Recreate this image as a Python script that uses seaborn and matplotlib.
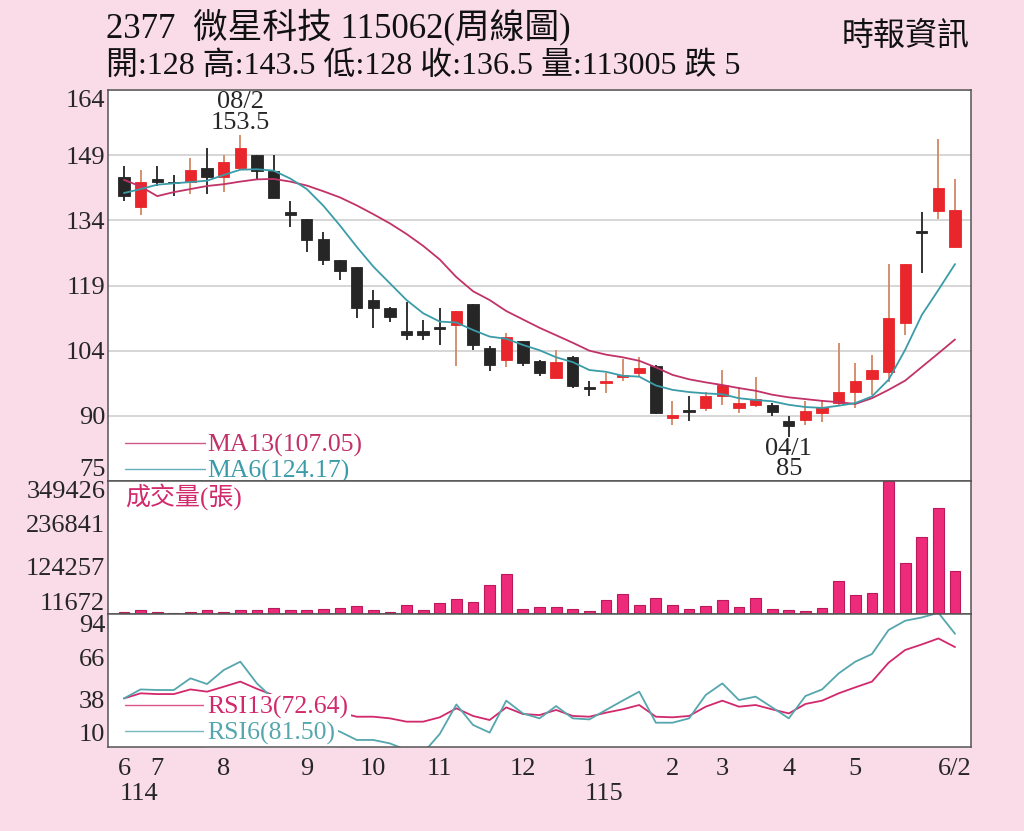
import matplotlib
matplotlib.use("Agg")
import matplotlib.pyplot as plt
import seaborn as sns

# weekly candles (114/6 .. 115/6/2)
opens = [144.0, 137.2, 143.5, 142.9, 142.8, 145.9, 144.0, 145.9, 148.9, 145.4,
         136.1, 134.3, 129.9, 125.0, 123.6, 116.0, 114.1, 109.0, 109.0, 109.6,
         110.4, 115.0, 105.1, 102.3, 106.6, 102.2, 98.3, 103.0, 96.1, 97.1,
         98.5, 99.4, 101.1, 89.2, 90.8, 91.4, 94.2, 91.4, 92.2, 92.2,
         88.6, 88.8, 90.3, 92.7, 95.2, 98.0, 99.6, 110.7, 131.4, 136.2, 128.0]
highs = [146.5, 145.5, 146.5, 144.4, 148.2, 150.5, 148.9, 153.5, 149.0, 148.9,
         138.4, 134.3, 131.5, 125.0, 123.6, 118.3, 114.5, 115.6, 111.5, 114.1,
         113.5, 115.0, 105.6, 108.6, 106.6, 102.4, 104.7, 103.3, 97.7, 99.4,
         102.6, 103.0, 101.3, 93.0, 94.2, 95.0, 100.0, 96.2, 98.6, 92.6,
         89.7, 93.0, 93.0, 106.2, 101.6, 103.5, 124.1, 124.1, 136.1, 152.5, 143.5]
lows = [138.5, 135.2, 142.0, 139.6, 140.0, 140.0, 140.6, 145.5, 143.5, 139.1,
        132.5, 127.0, 124.0, 120.6, 111.9, 109.6, 111.1, 107.0, 107.0, 105.8,
        101.1, 104.7, 99.9, 100.7, 101.1, 98.8, 98.3, 96.0, 94.3, 94.8,
        97.5, 98.6, 90.2, 87.7, 88.6, 90.7, 92.2, 90.3, 91.7, 89.7,
        85.0, 87.7, 88.4, 92.2, 91.4, 94.5, 97.3, 108.1, 122.1, 134.3, 128.0]
closes = [139.6, 142.9, 142.8, 142.5, 145.5, 144.0, 147.4, 150.5, 145.3, 139.1,
          135.3, 129.7, 125.1, 122.7, 114.1, 114.1, 112.1, 108.1, 108.1, 109.6,
          113.5, 105.7, 101.3, 107.5, 101.7, 99.5, 102.0, 96.4, 96.1, 97.5,
          99.0, 100.5, 90.3, 89.9, 90.8, 94.1, 96.7, 92.7, 93.6, 90.5,
          87.4, 90.8, 91.8, 95.1, 97.7, 100.0, 112.0, 124.1, 131.4, 141.5, 136.5]
volume = [4400, 9400, 4200, 1500, 6000, 11300, 5200, 11300, 11300, 14700,
          9400, 11300, 13100, 14700, 19900, 10300, 5200, 24400, 9400, 28800,
          39300, 31400, 75000, 104900, 13000, 18300, 18300, 13900, 6800, 35700,
          53300, 22700, 42000, 23600, 13900, 21800, 36700, 17500, 40900, 13900,
          9400, 8700, 15700, 85500, 50600, 54000, 349426, 133700, 203400, 279400, 113005]
ma13 = [143.3, 141.8, 139.6, 140.5, 141.2, 141.9, 142.3, 142.9, 143.4, 143.5,
        142.9, 142.0, 140.7, 139.3, 137.5, 135.5, 133.4, 131.0, 128.3, 125.2,
        121.2, 118.0, 116.0, 113.5, 111.6, 109.7, 108.0, 106.3, 104.5, 103.6,
        103.0, 102.2, 100.7, 99.0, 98.0, 97.3, 96.7, 96.0, 95.4, 94.5,
        93.9, 93.5, 93.1, 92.8, 92.4, 93.7, 95.6, 97.7, 100.8, 103.9, 107.05]
ma6 = [140.3, 141.2, 142.2, 142.5, 142.8, 143.1, 144.4, 145.6, 145.7, 145.4,
       143.6, 141.2, 137.4, 132.9, 128.1, 123.6, 119.8, 116.0, 113.0, 111.1,
       110.9, 109.2, 107.7, 107.2, 105.8, 104.6, 103.0, 101.9, 100.1, 99.7,
       98.8, 98.6, 96.6, 95.6, 95.1, 94.8, 94.6, 93.7, 93.3, 93.0,
       92.2, 91.7, 91.5, 92.0, 92.6, 94.1, 97.9, 104.7, 112.6, 118.3, 124.17]
rsi13 = [38.4, 41.8, 41.3, 41.3, 44.4, 42.9, 46.2, 49.6, 44.8, 40.5,
         36.5, 33.0, 30.5, 29.0, 26.2, 26.2, 25.1, 22.9, 22.9, 25.8,
         31.8, 26.7, 24.0, 32.4, 28.0, 27.3, 30.7, 26.7, 26.2, 28.9,
         31.1, 34.0, 26.2, 25.8, 26.7, 32.9, 36.9, 32.9, 34.0, 31.1,
         28.4, 34.7, 36.9, 41.8, 45.8, 49.6, 62.2, 70.7, 74.4, 78.4, 72.64]
rsi6 = [38.4, 44.4, 44.0, 44.0, 51.8, 48.0, 57.3, 62.9, 48.4, 38.0,
        30.0, 24.0, 20.0, 16.2, 10.7, 10.7, 8.4, 4.0, 2.0, 14.7,
        34.4, 20.7, 15.6, 36.9, 28.4, 25.1, 33.3, 25.1, 24.4, 30.7,
        36.9, 42.9, 22.2, 22.2, 25.1, 40.7, 48.4, 37.3, 39.6, 32.4,
        25.1, 40.0, 44.4, 55.1, 62.9, 68.0, 84.0, 90.2, 92.4, 95.5, 81.50]

weeks = list(range(len(closes)))
month_pos = [0, 2, 6, 11, 15, 19, 24, 28, 33, 36, 40, 44, 50]
month_labels = ["6", "7", "8", "9", "10", "11", "12", "1", "2", "3", "4", "5", "6/2"]
year_pos = [0, 28]
year_labels = ["114", "115"]
hi_date, lo_date = "08/2", "04/1"

price_ticks = [163.7, 148.9, 134.1, 119.3, 104.5, 89.7, 74.9]
price_labels = ["164", "149", "134", "119", "104", "90", "75"]
vol_ticks = [11672, 124257, 236841, 349426]
rsi_ticks = [94, 66, 38, 10]

BG = "#F9DCE7"
RED = "#E8262B"
BLK = "#262626"
MA13_C = "#C23268"
MA6_C = "#3A9CA8"
RSI13_C = "#D2286C"
RSI6_C = "#55A6AE"
VOL_C = "#EE2A7B"
FAM = ["Liberation Serif", "Noto Sans CJK TC"]

sns.set_style("white")
plt.rcParams["font.family"] = FAM

fig = plt.figure(figsize=(10.24, 8.31), dpi=100, facecolor=BG)
L, W = 108 / 1024, 863 / 1024
ax_p = fig.add_axes([L, 350 / 831, W, 391 / 831])
ax_v = fig.add_axes([L, 217 / 831, W, 133 / 831])
ax_r = fig.add_axes([L, 84 / 831, W, 133 / 831])


def text_legend(ax, colors, anchor, pad):
    leg = ax.legend(loc="lower left", bbox_to_anchor=anchor, frameon=False,
                    fontsize=18.5, handlelength=3.2, handletextpad=0.0,
                    labelspacing=0.1, borderpad=0, borderaxespad=0,
                    labelcolor=colors)
    for t in leg.get_texts():
        t.set_bbox(dict(facecolor="white", edgecolor="none", pad=pad))
    for h in leg.legend_handles:
        h.set_linewidth(1.0)
        h.set_alpha(0.8)
    leg.set_zorder(2.4)  # over the lines, under the spines
    return leg


# candles
up = [c > o for o, c in zip(opens, closes)]
body_col = [RED if u else BLK for u in up]
wick_col = ["#D49070" if u else "#333333" for u in up]
ax_p.vlines(weeks, lows, highs, colors=wick_col, linewidth=1.4, zorder=2)
bottoms = [min(o, c) if abs(c - o) > 0.35 else o - 0.2 for o, c in zip(opens, closes)]
heights = [max(abs(c - o), 0.4) for o, c in zip(opens, closes)]
ax_p.bar(weeks, heights, bottom=bottoms, width=0.68, color=body_col,
         edgecolor=body_col, linewidth=0.6, zorder=2.2)

sns.lineplot(x=weeks, y=ma13, color=MA13_C, linewidth=1.3, ax=ax_p, zorder=2.3,
             label=f"MA13({ma13[-1]:.2f})")
sns.lineplot(x=weeks, y=ma6, color=MA6_C, linewidth=1.3, ax=ax_p, zorder=2.3,
             label=f"MA6({ma6[-1]:.2f})")

ax_p.set_ylim(price_ticks[-1], price_ticks[0])
ax_p.set_yticks(price_ticks)
ax_p.set_yticklabels(price_labels)
ax_p.yaxis.grid(True, color="#CFCFCF", linewidth=1.2)
text_legend(ax_p, [MA13_C, MA6_C], (0.0197, -0.005), 0.5)

ih = highs.index(max(highs))
il = lows.index(min(lows))
ax_p.annotate(f"{hi_date}\n{highs[ih]:g}", xy=(ih, highs[ih]), xytext=(0, 1),
              textcoords="offset points", ha="center", va="bottom",
              fontsize=19, linespacing=0.9)
ax_p.annotate(f"{lo_date}\n{lows[il]:g}", xy=(il, lows[il]), xytext=(0, -1),
              textcoords="offset points", ha="center", va="top",
              fontsize=19, linespacing=0.9)

# volume
sns.barplot(x=weeks, y=volume, native_scale=True, orient="x", width=0.65,
            color=VOL_C, edgecolor="#B81A5A", linewidth=0.8, saturation=1,
            ax=ax_v)
ax_v.set_ylim(0, vol_ticks[-1])
ax_v.set_yticks(vol_ticks)
ax_v.set_yticklabels([str(v) for v in vol_ticks])
ax_v.text(0.02, 0.88, "成交量(張)", transform=ax_v.transAxes, fontsize=18,
          color=RSI13_C, va="center", ha="left")

# RSI
sns.lineplot(x=weeks, y=rsi13, color=RSI13_C, linewidth=1.3, ax=ax_r,
             label=f"RSI13({rsi13[-1]:.2f})")
sns.lineplot(x=weeks, y=rsi6, color=RSI6_C, linewidth=1.3, ax=ax_r,
             label=f"RSI6({rsi6[-1]:.2f})")
ax_r.set_ylim(6, 94.7)
ax_r.set_yticks(rsi_ticks)
ax_r.set_yticklabels([str(v) for v in rsi_ticks])
text_legend(ax_r, [RSI13_C, RSI6_C], (0.0197, 0.012), 2.0)

for ax in (ax_p, ax_v, ax_r):
    ax.set_facecolor("white")
    ax.set_xlim(-0.96, 50.96)
    ax.set_xlabel("")
    ax.set_ylabel("")
    ax.tick_params(axis="y", length=0, pad=2, labelsize=19)
    for s in ax.spines.values():
        s.set_color("#555555")
        s.set_linewidth(1.1)
        s.set_visible(True)
for ax in (ax_p, ax_v):
    ax.set_xticks([])

for ax, vas in ((ax_p, ["top"] + ["center_baseline"] * 5 + ["bottom"]),
                (ax_v, ["baseline", "center_baseline", "center_baseline", "top"]),
                (ax_r, ["top", "center_baseline", "center_baseline", "baseline"])):
    for lab, va in zip(ax.get_yticklabels(), vas):
        lab.set_va(va)

ax_r.set_xticks(month_pos)
ax_r.set_xticklabels(month_labels)
ax_r.set_xticks(weeks, minor=True)
ax_r.tick_params(axis="x", which="major", direction="out", length=6, width=1,
                 pad=2, labelsize=19, color="#333333")
ax_r.tick_params(axis="x", which="minor", direction="out", length=3, width=0.8,
                 color="#333333")
for p, t in zip(year_pos, year_labels):
    ax_r.text(p - 0.27, -0.35, t, transform=ax_r.get_xaxis_transform(),
              ha="left", va="center", fontsize=19)

# header
fig.text(106 / 1024, 1 - 27 / 831, "2377  微星科技 115062(周線圖)", fontsize=25,
         ha="left", va="center", color="#111111")
fig.text(106 / 1024, 1 - 66 / 831,
         f"開:{opens[-1]:g} 高:{highs[-1]:g} 低:{lows[-1]:g} 收:{closes[-1]:g} "
         f"量:{volume[-1]} 跌 {closes[-2] - closes[-1]:g}",
         fontsize=23, ha="left", va="center", color="#111111")
fig.text(970 / 1024, 1 - 37 / 831, "時報資訊", fontsize=23, ha="right",
         va="center", color="#111111")

fig.savefig("out.png", dpi=100, facecolor=BG)
